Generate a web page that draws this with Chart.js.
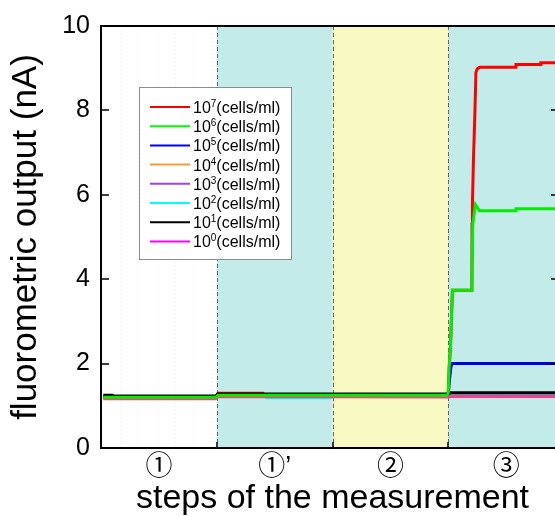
<!DOCTYPE html>
<html>
<head>
<meta charset="utf-8">
<title>fluorometric output</title>
<script src="https://cdn.jsdelivr.net/npm/chart.js"></script>
<style>
  html, body { margin: 0; padding: 0; background: #fff; overflow: hidden; }
</style>
</head>
<body>
<canvas id="chart" width="566" height="516"></canvas>
<script>
// measurement steps (x = 0..4, one unit per step)
const stepLabels = ["①", "①\u2019", "②", "③"];
const stepBounds = [1, 2, 3];
const yTicks = [0, 2, 4, 6, 8, 10];

// cell concentrations (10^n cells/ml)
const exponents = [7, 6, 5, 4, 3, 2, 1, 0];

// series
const redX = [0.02, 0.99, 1.01, 1.40, 1.41, 2.0, 2.99, 3.0, 3.008, 3.02, 3.028, 3.036, 3.204, 3.206, 3.209, 3.218, 3.23, 3.239, 3.25, 3.27, 3.578, 3.585, 3.794, 3.80, 4.0];
const redY = [1.19, 1.19, 1.30, 1.30, 1.25, 1.25, 1.25, 1.30, 1.9, 2.46, 3.1, 3.74, 3.74, 5.3, 5.8, 6.86, 7.92, 8.9, 8.98, 9.02, 9.02, 9.09, 9.09, 9.13, 9.13];

const greenX = [0.02, 0.99, 1.01, 2.0, 2.99, 3.0, 3.008, 3.02, 3.028, 3.036, 3.204, 3.212, 3.235, 3.27, 3.578, 3.585, 4.0];
const greenY = [1.2, 1.2, 1.25, 1.25, 1.25, 1.3, 1.9, 2.46, 3.1, 3.74, 3.74, 5.3, 5.77, 5.62, 5.62, 5.67, 5.67];

const blueX = [0.02, 0.99, 1.01, 2.0, 2.99, 3.0, 3.01, 3.022, 3.03, 4.0];
const blueY = [1.21, 1.21, 1.25, 1.24, 1.24, 1.26, 1.6, 1.9, 2.0, 2.0];

const orangeX = [0.02, 0.99, 1.01, 4.0];
const orangeY = [1.2, 1.2, 1.24, 1.24];

const purpleX = [0.02, 0.99, 1.01, 4.0];
const purpleY = [1.21, 1.21, 1.24, 1.23];

const cyanX = [0.02, 0.99, 1.01, 1.42, 1.43, 1.98, 2.0, 4.0];
const cyanY = [1.2, 1.2, 1.25, 1.25, 1.19, 1.19, 1.23, 1.24];

const blackX = [0.02, 0.10, 0.11, 0.99, 1.01, 2.0, 2.99, 3.02, 4.0];
const blackY = [1.25, 1.25, 1.23, 1.23, 1.28, 1.28, 1.28, 1.31, 1.31];

const pinkX = [0.02, 0.99, 1.01, 2.99, 3.02, 4.0];
const pinkY = [1.17, 1.17, 1.22, 1.21, 1.22, 1.22];

const FONT = "'Liberation Sans', Arial, 'DejaVu Sans', 'Noto Sans CJK JP', sans-serif";
const STEP_FONT = "'Liberation Sans', 'Noto Sans CJK JP', sans-serif";

function pts(xs, ys) {
    return xs.map((x, i) => ({ x: x, y: ys[i] }));
}

// colours, drawing order (lower = on top)
const series = [
    { x: redX, y: redY, color: "#ff0000", order: 4 },
    { x: greenX, y: greenY, color: "#00ee00", order: 0 },
    { x: blueX, y: blueY, color: "#0000e0", order: 3 },
    { x: orangeX, y: orangeY, color: "#ff9933", order: 7 },
    { x: purpleX, y: purpleY, color: "#a040ff", order: 6 },
    { x: cyanX, y: cyanY, color: "#00ffff", order: 5 },
    { x: blackX, y: blackY, color: "#000000", order: 2 },
    { x: pinkX, y: pinkY, color: "#ff3c8c", order: 1 },
];

const datasets = series.map((s, i) => ({
    label: "10^" + exponents[i] + "(cells/ml)",
    data: pts(s.x, s.y),
    borderColor: s.color,
    backgroundColor: s.color,
    borderWidth: 3,
    pointRadius: 0,
    tension: 0,
    fill: false,
    order: s.order,
}));

const legendColors = ["#ff0000", "#00ff00", "#0000ff", "#ff9933", "#a040ff", "#00ffff", "#000000", "#ff00ff"];

// coloured step bands, dashed separators, frame details, legend
const decorPlugin = {
    id: "decor",
    beforeDraw(chart) {
        const { ctx, chartArea: a, scales: { x } } = chart;
        const bands = ["#ffffff", "#c2ebe9", "#f8f9c3", "#c2ebe9"];
        ctx.save();
        // faint dotted grid
        ctx.strokeStyle = "rgba(0,0,0,0.08)";
        ctx.lineWidth = 1;
        ctx.setLineDash([1, 3]);
        for (let v = 0.16; v < 1; v += 0.16) {
            const px = Math.round(x.getPixelForValue(v)) + 0.5;
            ctx.beginPath();
            ctx.moveTo(px, a.top);
            ctx.lineTo(px, a.bottom);
            ctx.stroke();
        }
        ctx.setLineDash([]);
        bands.forEach((c, i) => {
            if (i === 0) return;
            const x0 = x.getPixelForValue(i);
            const x1 = x.getPixelForValue(i + 1);
            ctx.fillStyle = c;
            ctx.fillRect(x0, a.top, x1 - x0, a.bottom - a.top);
        });
        ctx.strokeStyle = "#666";
        ctx.lineWidth = 1;
        ctx.setLineDash([4, 3]);
        stepBounds.forEach(b => {
            const px = Math.round(x.getPixelForValue(b)) + 0.5;
            ctx.beginPath();
            ctx.moveTo(px, a.top);
            ctx.lineTo(px, a.bottom);
            ctx.stroke();
        });
        ctx.restore();
    },
    afterDraw(chart) {
        const { ctx, chartArea: a, scales: { x, y } } = chart;
        ctx.save();
        ctx.strokeStyle = "#000";
        ctx.lineWidth = 2;
        // top frame
        ctx.beginPath();
        ctx.moveTo(a.left - 1, a.top);
        ctx.lineTo(a.right, a.top);
        ctx.stroke();
        ctx.lineWidth = 1.5;
        // inward ticks
        yTicks.forEach(v => {
            const py = Math.round(y.getPixelForValue(v));
            ctx.beginPath();
            ctx.moveTo(a.left, py);
            ctx.lineTo(a.left + 8, py);
            ctx.moveTo(a.right, py);
            ctx.lineTo(a.right - 13, py);
            ctx.stroke();
        });
        stepBounds.forEach(b => {
            const px = Math.round(x.getPixelForValue(b));
            ctx.beginPath();
            ctx.moveTo(px, a.bottom);
            ctx.lineTo(px, a.bottom - 6);
            ctx.stroke();
        });

        // legend box
        const bx = 139.5, by = 87.5, bw = 152, bh = 172;
        ctx.fillStyle = "#fff";
        ctx.fillRect(bx, by, bw, bh);
        ctx.strokeStyle = "#8c8c8c";
        ctx.lineWidth = 1;
        ctx.strokeRect(bx, by, bw, bh);
        exponents.forEach((e, i) => {
            const ry = 107 + i * 19.2;
            ctx.strokeStyle = legendColors[i];
            ctx.lineWidth = 2;
            ctx.beginPath();
            ctx.moveTo(150, ry);
            ctx.lineTo(190, ry);
            ctx.stroke();
            ctx.fillStyle = "#000";
            ctx.textBaseline = "alphabetic";
            ctx.textAlign = "left";
            ctx.font = "16px " + FONT;
            let tx = 193;
            ctx.fillText("10", tx, ry + 6);
            tx += ctx.measureText("10").width;
            ctx.font = "10px " + FONT;
            ctx.fillText(String(e), tx, ry);
            tx += ctx.measureText(String(e)).width;
            ctx.font = "16px " + FONT;
            ctx.fillText("(cells/ml)", tx, ry + 6);
        });
        ctx.restore();
    }
};

const ctx = document.getElementById("chart").getContext("2d");
new Chart(ctx, {
    type: "line",
    data: { datasets: datasets },
    options: {
        responsive: false,
        animation: false,
        layout: { padding: { top: 21, right: 2, left: 0, bottom: 0 } },
        plugins: { legend: { display: false }, tooltip: { enabled: false } },
        scales: {
            x: {
                type: "linear",
                min: 0,
                max: 4,
                afterBuildTicks: (scale) => {
                    scale.ticks = [0.5, 1.5, 2.5, 3.5].map(v => ({ value: v }));
                },
                afterFit: (scale) => { scale.height = 68; },
                ticks: {
                    callback: (v) => stepLabels[Math.floor(v)],
                    color: "#000",
                    font: { family: STEP_FONT, size: 27, lineHeight: 1 },
                    padding: 6,
                    maxRotation: 0,
                    autoSkip: false,
                },
                grid: { display: false, drawTicks: false },
                border: { display: true, color: "#000", width: 2 },
                title: {
                    display: true,
                    text: "steps of the measurement",
                    color: "#000",
                    font: { family: FONT, size: 34, lineHeight: 1 },
                    padding: { top: 0, bottom: 0 },
                },
            },
            y: {
                min: 0,
                max: 10,
                afterBuildTicks: (scale) => {
                    scale.ticks = yTicks.map(v => ({ value: v }));
                },
                afterFit: (scale) => { scale.width = 101; },
                ticks: {
                    color: "#000",
                    font: { family: FONT, size: 25 },
                    padding: 11,
                },
                grid: { display: false, drawTicks: false },
                border: { display: true, color: "#000", width: 2 },
                title: {
                    display: true,
                    text: "fluorometric output (nA)",
                    color: "#000",
                    font: { family: FONT, size: 35 },
                    padding: { top: 5, bottom: 0 },
                },
            },
        },
    },
    plugins: [decorPlugin],
});
</script>
</body>
</html>
